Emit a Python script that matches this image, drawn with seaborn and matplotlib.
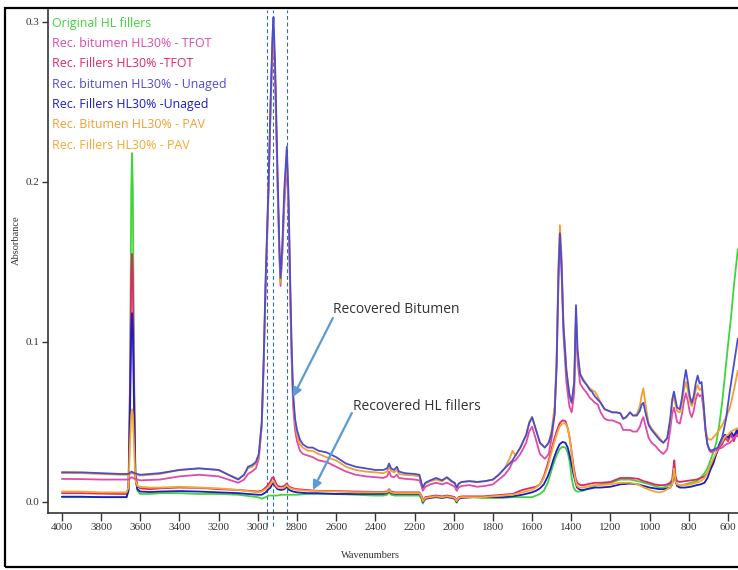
import numpy as np
import pandas as pd
import matplotlib
matplotlib.use("Agg")
import matplotlib.pyplot as plt
from matplotlib.patches import Rectangle
import seaborn as sns

# ---------------------------------------------------------------------------
# FTIR spectra (absorbance vs. wavenumber, cm-1)
# ---------------------------------------------------------------------------
# Recovered bitumen spectra share one wavenumber grid
wn_bitumen = [4000, 3900, 3800, 3700, 3660, 3645, 3630, 3600, 3500, 3400, 3300, 3200,
              3150, 3100, 3070, 3050, 3030, 3010, 2995, 2980, 2970, 2960, 2955, 2945,
              2935, 2925, 2920, 2912, 2900, 2890, 2884, 2875, 2865, 2852, 2843, 2835,
              2828, 2820, 2810, 2800, 2785, 2770, 2745, 2720, 2690, 2650, 2600, 2550,
              2500, 2450, 2400, 2360, 2340, 2330, 2320, 2305, 2290, 2280, 2250, 2200,
              2175, 2165, 2158, 2145, 2120, 2090, 2060, 2035, 2010, 1995, 1985, 1975,
              1960, 1920, 1880, 1840, 1800, 1770, 1740, 1715, 1700, 1685, 1660, 1630,
              1615, 1600, 1585, 1560, 1535, 1515, 1500, 1485, 1475, 1465, 1458, 1450,
              1440, 1425, 1410, 1398, 1385, 1376, 1368, 1355, 1340, 1320, 1305, 1295,
              1280, 1265, 1250, 1230, 1210, 1190, 1170, 1150, 1135, 1120, 1100, 1085,
              1065, 1050, 1040, 1032, 1020, 1005, 990, 970, 950, 930, 910, 895, 885,
              876, 868, 860, 846, 835, 825, 815, 805, 795, 785, 775, 765, 755, 745,
              735, 725, 715, 705, 695, 685, 670, 650, 630, 610, 590, 570, 550]

bitumen_unaged = [0.0186, 0.0185, 0.018, 0.0175, 0.0175, 0.019, 0.018, 0.017, 0.018, 0.020,
                  0.021, 0.020, 0.017, 0.014, 0.017, 0.022, 0.023, 0.025, 0.030, 0.050,
                  0.090, 0.140, 0.160, 0.200, 0.250, 0.292, 0.303, 0.275, 0.210, 0.160,
                  0.140, 0.160, 0.195, 0.222, 0.190, 0.140, 0.100, 0.068, 0.052, 0.045,
                  0.039, 0.036, 0.034, 0.034, 0.032, 0.031, 0.028, 0.024, 0.022, 0.021,
                  0.020, 0.020, 0.021, 0.024, 0.021, 0.020, 0.022, 0.019, 0.018, 0.0175,
                  0.017, 0.012, 0.009, 0.012, 0.0135, 0.015, 0.0135, 0.0155, 0.013, 0.012,
                  0.009, 0.0115, 0.0125, 0.013, 0.0125, 0.013, 0.014, 0.017, 0.021, 0.024,
                  0.026, 0.029, 0.034, 0.042, 0.049, 0.053, 0.047, 0.037, 0.034, 0.037,
                  0.043, 0.055, 0.085, 0.145, 0.168, 0.150, 0.110, 0.082, 0.067, 0.062,
                  0.075, 0.123, 0.095, 0.080, 0.076, 0.073, 0.070, 0.069, 0.066, 0.064,
                  0.062, 0.058, 0.057, 0.056, 0.056, 0.0555, 0.052, 0.053, 0.056, 0.054,
                  0.054, 0.057, 0.061, 0.062, 0.055, 0.048, 0.045, 0.042, 0.039, 0.037,
                  0.040, 0.052, 0.064, 0.069, 0.064, 0.059, 0.058, 0.065, 0.075, 0.0825,
                  0.075, 0.066, 0.062, 0.066, 0.074, 0.079, 0.074, 0.075, 0.062, 0.045,
                  0.036, 0.033, 0.032, 0.033, 0.034, 0.040, 0.052, 0.070, 0.086, 0.102]

bitumen_pav = [0.018, 0.018, 0.0175, 0.017, 0.017, 0.018, 0.0175, 0.0165, 0.0175, 0.020,
               0.021, 0.020, 0.017, 0.0145, 0.017, 0.021, 0.022, 0.024, 0.029, 0.048,
               0.088, 0.137, 0.157, 0.197, 0.247, 0.288, 0.296, 0.270, 0.205, 0.157,
               0.137, 0.157, 0.190, 0.217, 0.185, 0.135, 0.097, 0.065, 0.050, 0.042,
               0.036, 0.034, 0.032, 0.032, 0.030, 0.028, 0.026, 0.022, 0.020, 0.019,
               0.0185, 0.018, 0.019, 0.022, 0.0195, 0.0185, 0.020, 0.0175, 0.017, 0.0165,
               0.016, 0.0115, 0.009, 0.0115, 0.013, 0.014, 0.013, 0.015, 0.0125, 0.0115,
               0.0085, 0.011, 0.0125, 0.013, 0.0125, 0.013, 0.014, 0.017, 0.021, 0.027,
               0.032, 0.029, 0.034, 0.042, 0.050, 0.053, 0.047, 0.037, 0.034, 0.037,
               0.045, 0.060, 0.090, 0.150, 0.173, 0.155, 0.112, 0.083, 0.068, 0.062,
               0.075, 0.119, 0.092, 0.080, 0.077, 0.073, 0.071, 0.070, 0.069, 0.066,
               0.062, 0.058, 0.057, 0.056, 0.056, 0.0555, 0.052, 0.053, 0.056, 0.054,
               0.055, 0.060, 0.067, 0.071, 0.060, 0.049, 0.046, 0.043, 0.040, 0.037,
               0.040, 0.050, 0.062, 0.066, 0.061, 0.057, 0.056, 0.062, 0.070, 0.075,
               0.070, 0.063, 0.060, 0.063, 0.070, 0.073, 0.070, 0.071, 0.060, 0.046,
               0.040, 0.039, 0.039, 0.041, 0.044, 0.048, 0.053, 0.059, 0.070, 0.082]

bitumen_tfot = [0.0144, 0.0143, 0.014, 0.014, 0.014, 0.0155, 0.0145, 0.0135, 0.014, 0.016,
                0.017, 0.016, 0.014, 0.012, 0.014, 0.0175, 0.019, 0.021, 0.027, 0.047,
                0.085, 0.135, 0.155, 0.195, 0.245, 0.285, 0.292, 0.265, 0.200, 0.153,
                0.135, 0.155, 0.185, 0.213, 0.180, 0.130, 0.092, 0.060, 0.045, 0.038,
                0.032, 0.030, 0.029, 0.028, 0.026, 0.025, 0.022, 0.019, 0.017, 0.016,
                0.0155, 0.015, 0.016, 0.019, 0.016, 0.0155, 0.017, 0.015, 0.0145, 0.014,
                0.0135, 0.010, 0.007, 0.0095, 0.011, 0.012, 0.011, 0.012, 0.0105, 0.0095,
                0.007, 0.009, 0.010, 0.0105, 0.0095, 0.010, 0.011, 0.014, 0.017, 0.021,
                0.025, 0.026, 0.030, 0.037, 0.044, 0.047, 0.041, 0.030, 0.027, 0.030,
                0.040, 0.055, 0.085, 0.140, 0.162, 0.145, 0.105, 0.075, 0.060, 0.056,
                0.068, 0.114, 0.088, 0.074, 0.071, 0.068, 0.065, 0.064, 0.062, 0.061,
                0.056, 0.052, 0.051, 0.051, 0.050, 0.049, 0.045, 0.045, 0.045, 0.044,
                0.044, 0.047, 0.051, 0.053, 0.047, 0.040, 0.037, 0.035, 0.032, 0.030,
                0.033, 0.045, 0.055, 0.059, 0.055, 0.050, 0.049, 0.055, 0.063, 0.068,
                0.063, 0.056, 0.053, 0.057, 0.064, 0.068, 0.066, 0.067, 0.058, 0.045,
                0.036, 0.032, 0.031, 0.032, 0.033, 0.034, 0.036, 0.037, 0.040, 0.042]

# Filler spectra share a second grid
wn_fillers = [4000, 3900, 3800, 3700, 3670, 3660, 3652, 3646, 3642, 3638, 3632, 3625,
              3615, 3600, 3550, 3500, 3400, 3300, 3200, 3100, 3000, 2980, 2960, 2945,
              2935, 2928, 2920, 2912, 2900, 2880, 2865, 2852, 2840, 2820, 2800, 2750,
              2700, 2600, 2500, 2400, 2360, 2340, 2330, 2320, 2300, 2250, 2200, 2175,
              2165, 2158, 2145, 2120, 2090, 2060, 2035, 2010, 1995, 1985, 1975, 1960,
              1900, 1850, 1800, 1750, 1700, 1650, 1600, 1580, 1560, 1540, 1520, 1505,
              1490, 1475, 1460, 1445, 1430, 1418, 1408, 1398, 1388, 1378, 1370, 1360,
              1350, 1340, 1320, 1300, 1280, 1250, 1200, 1150, 1100, 1060, 1030, 1000,
              975, 950, 930, 910, 895, 885, 878, 874, 868, 860, 846, 820, 790, 760,
              740, 720, 705, 690, 675, 660, 645, 630, 615, 600, 585, 570, 555, 550]

original_hl = [0.003, 0.003, 0.003, 0.003, 0.003, 0.008, 0.080, 0.195, 0.218, 0.195, 0.085,
               0.018, 0.007, 0.005, 0.005, 0.0055, 0.0055, 0.005, 0.005, 0.0045, 0.003,
               0.002, 0.003, 0.004, 0.004, 0.004, 0.004, 0.004, 0.004, 0.0045, 0.0045,
               0.0045, 0.0045, 0.0045, 0.0045, 0.005, 0.005, 0.005, 0.0045, 0.004, 0.004,
               0.0045, 0.006, 0.0045, 0.004, 0.004, 0.004, 0.004, 0.002, -0.001, 0.002,
               0.003, 0.004, 0.003, 0.004, 0.003, 0.002, -0.0005, 0.002, 0.003, 0.003,
               0.0025, 0.0025, 0.0025, 0.003, 0.003, 0.003, 0.004, 0.005, 0.007, 0.012,
               0.018, 0.024, 0.029, 0.033, 0.0345, 0.034, 0.031, 0.025, 0.015, 0.009,
               0.007, 0.0065, 0.0065, 0.0068, 0.007, 0.008, 0.009, 0.010, 0.011, 0.012,
               0.014, 0.014, 0.013, 0.012, 0.011, 0.010, 0.009, 0.009, 0.010, 0.011,
               0.012, 0.017, 0.019, 0.014, 0.011, 0.010, 0.011, 0.012, 0.013, 0.015,
               0.018, 0.021, 0.026, 0.031, 0.037, 0.048, 0.062, 0.080, 0.098, 0.115,
               0.135, 0.152, 0.158]

fillers_unaged = [0.0033, 0.0033, 0.003, 0.003, 0.003, 0.007, 0.060, 0.108, 0.118, 0.108,
                  0.060, 0.015, 0.008, 0.0065, 0.0062, 0.0065, 0.0068, 0.0065, 0.006,
                  0.0055, 0.0045, 0.0045, 0.006, 0.008, 0.009, 0.011, 0.012, 0.010, 0.008,
                  0.0075, 0.008, 0.0095, 0.0075, 0.0065, 0.006, 0.0055, 0.0055, 0.005,
                  0.005, 0.005, 0.005, 0.0055, 0.007, 0.0055, 0.005, 0.005, 0.005, 0.005,
                  0.003, 0.0, 0.002, 0.0025, 0.003, 0.0025, 0.003, 0.0025, 0.002, 0.0,
                  0.002, 0.0025, 0.003, 0.003, 0.003, 0.003, 0.0035, 0.0045, 0.006, 0.007,
                  0.0085, 0.011, 0.016, 0.021, 0.027, 0.032, 0.036, 0.0375, 0.037, 0.034,
                  0.029, 0.023, 0.017, 0.012, 0.009, 0.008, 0.0075, 0.0075, 0.008, 0.0085,
                  0.009, 0.009, 0.0095, 0.011, 0.0115, 0.011, 0.010, 0.009, 0.0085, 0.008,
                  0.008, 0.0085, 0.009, 0.011, 0.018, 0.021, 0.013, 0.010, 0.009, 0.009,
                  0.0095, 0.0105, 0.011, 0.012, 0.015, 0.020, 0.024, 0.030, 0.036, 0.040,
                  0.042, 0.040, 0.044, 0.041, 0.045, 0.043]

fillers_tfot = [0.0055, 0.0055, 0.0052, 0.005, 0.005, 0.009, 0.075, 0.142, 0.155, 0.142,
                0.075, 0.018, 0.010, 0.0085, 0.008, 0.0085, 0.009, 0.0088, 0.008, 0.0075,
                0.0065, 0.007, 0.009, 0.011, 0.013, 0.015, 0.0155, 0.013, 0.010, 0.0095,
                0.010, 0.0115, 0.0095, 0.0085, 0.008, 0.0075, 0.007, 0.0068, 0.0065,
                0.0063, 0.0063, 0.0065, 0.008, 0.0065, 0.006, 0.006, 0.006, 0.006, 0.004,
                0.001, 0.003, 0.0035, 0.004, 0.0035, 0.004, 0.0035, 0.003, 0.001, 0.003,
                0.0035, 0.0035, 0.0035, 0.004, 0.0045, 0.005, 0.0075, 0.009, 0.0095,
                0.011, 0.016, 0.024, 0.031, 0.038, 0.044, 0.049, 0.051, 0.0505, 0.046,
                0.040, 0.031, 0.022, 0.015, 0.012, 0.011, 0.0105, 0.0105, 0.011, 0.0115,
                0.012, 0.012, 0.0125, 0.015, 0.015, 0.0145, 0.013, 0.012, 0.011, 0.0105,
                0.0105, 0.011, 0.012, 0.014, 0.022, 0.026, 0.016, 0.013, 0.0125, 0.013,
                0.0135, 0.014, 0.015, 0.016, 0.018, 0.022, 0.026, 0.030, 0.034, 0.036,
                0.040, 0.038, 0.042, 0.038, 0.043, 0.041]

fillers_pav = [0.0065, 0.0065, 0.006, 0.006, 0.006, 0.009, 0.038, 0.054, 0.058, 0.054,
               0.035, 0.014, 0.010, 0.0095, 0.009, 0.009, 0.0095, 0.009, 0.0085, 0.0075,
               0.006, 0.0065, 0.008, 0.0095, 0.011, 0.0125, 0.013, 0.011, 0.009, 0.0085,
               0.009, 0.0105, 0.0088, 0.008, 0.0075, 0.007, 0.0068, 0.0065, 0.006, 0.006,
               0.006, 0.006, 0.0075, 0.006, 0.0055, 0.0055, 0.0055, 0.0055, 0.0035,
               0.0005, 0.0025, 0.003, 0.0035, 0.003, 0.0035, 0.003, 0.0025, 0.0005,
               0.0025, 0.003, 0.003, 0.003, 0.0035, 0.004, 0.0045, 0.006, 0.0075, 0.009,
               0.011, 0.015, 0.022, 0.029, 0.036, 0.042, 0.047, 0.049, 0.049, 0.046,
               0.040, 0.030, 0.020, 0.013, 0.010, 0.009, 0.009, 0.009, 0.0095, 0.010,
               0.0105, 0.0105, 0.011, 0.012, 0.012, 0.011, 0.009, 0.0075, 0.0065, 0.006,
               0.0065, 0.008, 0.009, 0.011, 0.018, 0.021, 0.013, 0.011, 0.0105, 0.0105,
               0.011, 0.012, 0.013, 0.015, 0.018, 0.023, 0.027, 0.031, 0.035, 0.038,
               0.041, 0.042, 0.044, 0.045, 0.046, 0.046]

labels = ["Original HL fillers",
          "Rec. bitumen HL30% - TFOT",
          "Rec. Fillers HL30% -TFOT",
          "Rec. bitumen HL30% - Unaged",
          "Rec. Fillers HL30% -Unaged",
          "Rec. Bitumen HL30% - PAV",
          "Rec. Fillers HL30% - PAV"]
colors = ["#3fd43a", "#e04aa8", "#e0266a", "#4c4cd0", "#1c1cc8", "#f0a030", "#f5a830"]

band_positions = [2955, 2924, 2853]
x_ticks = list(range(4000, 599, -200))
y_ticks = [0.0, 0.1, 0.2, 0.3]

# ---------------------------------------------------------------------------
series = {
    labels[0]: (wn_fillers, original_hl),
    labels[2]: (wn_fillers, fillers_tfot),
    labels[4]: (wn_fillers, fillers_unaged),
    labels[6]: (wn_fillers, fillers_pav),
    labels[1]: (wn_bitumen, bitumen_tfot),
    labels[5]: (wn_bitumen, bitumen_pav),
    labels[3]: (wn_bitumen, bitumen_unaged),
}
frames = [pd.DataFrame({"wn": w, "A": a, "series": name}) for name, (w, a) in series.items()]
df = pd.concat(frames, ignore_index=True)
draw_order = list(series.keys())
palette = dict(zip(labels, colors))

sns.set_style("white")
plt.rcParams["font.family"] = ["Liberation Serif", "DejaVu Serif"]

fig = plt.figure(figsize=(7.38, 5.70), dpi=100)
ax = fig.add_axes([48 / 738, 1 - 513 / 570, 690 / 738, 503 / 570])

sns.lineplot(data=df, x="wn", y="A", hue="series", hue_order=draw_order,
             palette=palette, sort=False, estimator=None, legend=False,
             linewidth=1.3, ax=ax)

ax.set_xlim(4071, 549)
ax.set_ylim(-0.0069, 0.3075)
ax.set_xticks(x_ticks)
ax.set_xticklabels([str(t) for t in x_ticks])
ax.set_yticks(y_ticks)
ax.set_yticklabels([f"{t:.1f}" for t in y_ticks])

for side in ("top", "right"):
    ax.spines[side].set_visible(False)
for side in ("left", "bottom"):
    ax.spines[side].set_color("#333333")
    ax.spines[side].set_linewidth(1.2)

ax.tick_params(axis="x", direction="out", length=5.5, width=1.0, color="#333333",
               labelsize=8, labelcolor="#333333", pad=2, bottom=True)
ax.tick_params(axis="y", direction="out", length=4, width=1.0, color="#333333",
               labelsize=8, labelcolor="#333333", pad=2, left=True)

ax.set_xlabel("Wavenumbers", fontsize=7.5, color="#333333")
ax.set_ylabel("Absorbance", fontsize=7.5, color="#333333")
ax.xaxis.set_label_coords(0.467, -0.075)
ax.yaxis.set_label_coords(-0.040, 0.543)

# dashed guides at the C-H stretching bands
for wn in band_positions:
    ax.axvline(wn, ymin=-0.025, ymax=1.0, color="#2e6db4", lw=0.8,
               ls=(0, (3.5, 2.5)), clip_on=False, zorder=1)

# coloured legend entries
for i, (lab, col) in enumerate(zip(labels, colors)):
    fig.text(52 / 738, 1 - (23 + 20.4 * i) / 570, lab, color=col,
             fontsize=8.9, family=["Open Sans", "DejaVu Sans"], va="center", ha="left")

# annotations
arrow_kw = dict(arrowstyle="-|>", color="#5b9bd5", lw=1.6, mutation_scale=13,
                shrinkA=0, shrinkB=0)
ax.annotate("", xy=(2821, 0.0656), xytext=(2617, 0.115), arrowprops=arrow_kw)
ax.annotate("", xy=(2719, 0.0075), xytext=(2520, 0.0556), arrowprops=arrow_kw)
ax.text(2617, 0.12, "Recovered Bitumen", fontsize=10, color="#333333",
        family=["Open Sans", "DejaVu Sans"], va="center", ha="left")
ax.text(2515, 0.0594, "Recovered HL fillers", fontsize=10, color="#333333",
        family=["Open Sans", "DejaVu Sans"], va="center", ha="left")

# outer frame
fig.patches.append(Rectangle((5 / 738, 3 / 570), 1.2, 1 - 11 / 570, transform=fig.transFigure,
                             fill=False, edgecolor="black", lw=1.6, zorder=10))

fig.savefig("out.png", dpi=100)
